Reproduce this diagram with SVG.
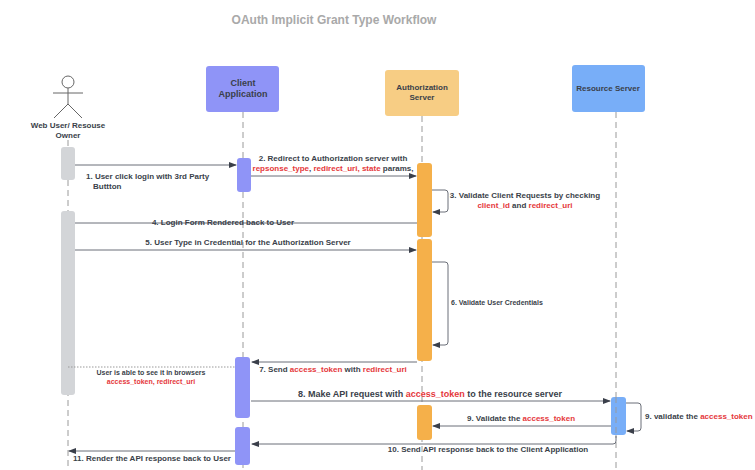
<svg xmlns="http://www.w3.org/2000/svg" width="755" height="470" viewBox="0 0 755 470">
<defs>
<style>
text{font-family:"Liberation Sans",Arial,sans-serif;font-size:8px;font-weight:bold;fill:#3a3f4a}
.r{fill:#e5383b}
.life{stroke:#9a9a9a;stroke-width:1;stroke-dasharray:6,4;fill:none}
.m{stroke:#6b6f78;stroke-width:1;fill:none}
.t{font-size:9px}
</style>
<marker id="a" markerWidth="8" markerHeight="6" refX="7" refY="3" orient="auto" markerUnits="userSpaceOnUse"><path d="M0,0 L8,3 L0,6 Z" fill="#3a3f4a"/></marker>
</defs>
<rect width="755" height="470" fill="#fff"/>
<text x="334" y="24" text-anchor="middle" style="font-size:12px;fill:#a9a9a9">OAuth Implicit Grant Type Workflow</text>
<g id="lifelines">
<line class="life" x1="68" y1="140" x2="68" y2="470"/>
<line class="life" x1="243" y1="112" x2="243" y2="470"/>
<line class="life" x1="422" y1="116" x2="422" y2="470"/>
<line class="life" x1="616" y1="112" x2="616" y2="470"/>
</g>
<g id="user">
<circle cx="68" cy="82" r="6" fill="#fff" stroke="#666"/>
<line x1="68" y1="88" x2="68" y2="104" stroke="#666"/>
<line x1="53" y1="93" x2="83" y2="93" stroke="#666"/>
<line x1="68" y1="104" x2="54" y2="118" stroke="#666"/>
<line x1="68" y1="104" x2="82" y2="118" stroke="#666"/>
<text x="68" y="128" text-anchor="middle">Web User/ Resouse</text>
<text x="68" y="138" text-anchor="middle">Owner</text>
</g>
<g id="client"><rect x="206" y="66" width="73" height="46" rx="3" fill="#8f94f7"/><text x="243" y="86" text-anchor="middle" class="t">Client</text><text x="243" y="97" text-anchor="middle" class="t">Application</text></g>
<g id="auth"><rect x="385" y="70" width="74" height="46" rx="3" fill="#f7cd84"/><text x="422" y="90" text-anchor="middle">Authorization</text><text x="422" y="100" text-anchor="middle">Server</text></g>
<g id="resource"><rect x="572" y="65" width="73" height="47" rx="3" fill="#78aef8"/><text x="608" y="91" text-anchor="middle">Resource Server</text></g>
<g id="activations">
<rect x="61" y="147" width="14" height="33" rx="3" fill="#d3d5d8"/>
<rect x="61" y="211" width="14" height="184" rx="3" fill="#d3d5d8"/>
<rect x="237" y="158" width="14" height="34" rx="3" fill="#8f94f7"/>
<rect x="235" y="357" width="15" height="61" rx="3" fill="#8f94f7"/>
<rect x="235" y="427" width="15" height="38" rx="3" fill="#8f94f7"/>
<rect x="417" y="163" width="15" height="74" rx="3" fill="#f5b04a"/>
<rect x="417" y="239" width="15" height="122" rx="3" fill="#f5b04a"/>
<rect x="417" y="405" width="15" height="35" rx="3" fill="#f5b04a"/>
<rect x="611" y="397" width="15" height="38" rx="3" fill="#78aef8"/>
<line class="life" x1="616" y1="397" x2="616" y2="435"/>
</g>
<g id="connectors">
<line class="m" x1="75" y1="165" x2="236" y2="165" marker-end="url(#a)"/>
<line class="m" x1="251" y1="176" x2="416" y2="176" marker-end="url(#a)"/>
<path class="m" d="M432,190 H445 Q448,190 448,193 V209 Q448,212 445,212 H433" marker-end="url(#a)"/>
<line class="m" x1="417" y1="223" x2="75" y2="223"/>
<line class="m" x1="75" y1="250" x2="416" y2="250" marker-end="url(#a)"/>
<path class="m" d="M432,262 H445 Q448,262 448,265 V342 Q448,345 445,345 H433" marker-end="url(#a)"/>
<line class="m" x1="417" y1="362" x2="252" y2="362" marker-end="url(#a)"/>
<line x1="68" y1="367" x2="236" y2="367" stroke="#999" stroke-dasharray="1.5,1.5"/>
<line class="m" x1="251" y1="401" x2="610" y2="401" marker-end="url(#a)"/>
<path class="m" d="M626,403 H638 Q641,403 641,406 V428 Q641,431 638,431 H627" marker-end="url(#a)"/>
<line class="m" x1="611" y1="426" x2="433" y2="426" marker-end="url(#a)"/>
<path class="m" d="M616,436 V441 Q616,444 613,444 H252" marker-end="url(#a)"/>
<line class="m" x1="235" y1="451" x2="69" y2="451" marker-end="url(#a)"/>
</g>
<g id="labels">
<text x="86" y="179">1. User click login with 3rd Party</text>
<text x="93" y="189">Buttton</text>
<text x="333" y="161" text-anchor="middle">2. Redirect to Authorization server with</text>
<text x="333" y="171" text-anchor="middle"><tspan class="r">repsonse_type</tspan>, <tspan class="r">redirect_uri, state</tspan> params,</text>
<text x="525" y="198" text-anchor="middle">3. Validate Client Requests by checking</text>
<text x="525" y="208" text-anchor="middle"><tspan class="r">client_id</tspan> and <tspan class="r">redirect_uri</tspan></text>
<text x="223" y="225" text-anchor="middle">4. Login Form Rendered back to User</text>
<text x="248" y="245" text-anchor="middle">5. User Type in Credential for the Authorization Server</text>
<text x="451" y="305" style="font-size:7px">6. Validate User Credentials</text>
<text x="333" y="372" text-anchor="middle">7. Send <tspan class="r">access_token</tspan> with <tspan class="r">redirect_uri</tspan></text>
<text x="151" y="375" text-anchor="middle" style="font-size:7px">User is able to see it in browsers</text>
<text x="151" y="384" text-anchor="middle" style="font-size:7px"><tspan class="r">access_token, redirect_uri</tspan></text>
<text x="430" y="397" text-anchor="middle" class="t">8. Make API request with <tspan class="r">access_token</tspan> to the resource server</text>
<text x="645" y="419">9. validate the <tspan class="r">access_token</tspan></text>
<text x="521" y="421" text-anchor="middle">9. Validate the <tspan class="r">access_token</tspan></text>
<text x="488" y="452" text-anchor="middle">10. Send API response back to the Client Application</text>
<text x="152" y="461" text-anchor="middle">11. Render the API response back to User</text>
</g>
</svg>
